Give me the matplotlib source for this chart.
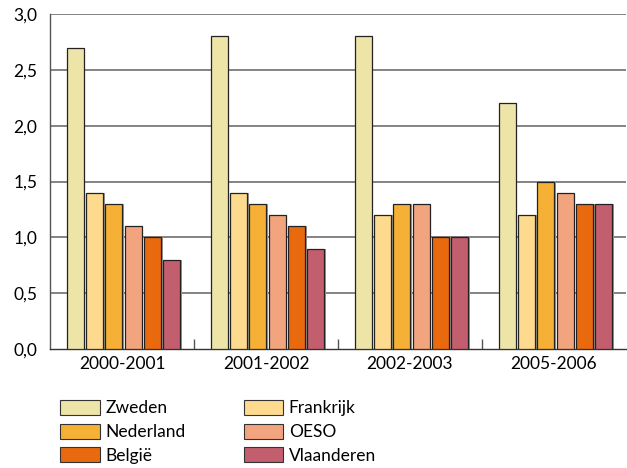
import numpy as np
import matplotlib
matplotlib.use('Agg')
import matplotlib.pyplot as plt
from matplotlib.patches import Patch

plt.rcParams['font.family'] = ['Lato', 'DejaVu Sans']

periods = ['2000-2001', '2001-2002', '2002-2003', '2005-2006']
series = ['Zweden', 'Frankrijk', 'Nederland', 'OESO', 'België', 'Vlaanderen']
values = {
    'Zweden':     [2.7, 2.8, 2.8, 2.2],
    'Frankrijk':  [1.4, 1.4, 1.2, 1.2],
    'Nederland':  [1.3, 1.3, 1.3, 1.5],
    'OESO':       [1.1, 1.2, 1.3, 1.4],
    'België':     [1.0, 1.1, 1.0, 1.3],
    'Vlaanderen': [0.8, 0.9, 1.0, 1.3],
}
colors = {
    'Zweden': '#EDE4A8',
    'Frankrijk': '#FDDA8E',
    'Nederland': '#F6B035',
    'OESO': '#F2A47E',
    'België': '#E96A0E',
    'Vlaanderen': '#C35E6E',
}

fig = plt.figure(figsize=(6.27, 4.68), dpi=100)
ax = fig.add_axes([50 / 627, 1 - 349 / 468, 576 / 627, 335 / 468])

x = np.arange(len(periods))
step = 0.134
width = 0.118
for i, name in enumerate(series):
    off = (i - 2.5) * step + 0.01
    # faint shadow behind each bar
    ax.bar(x + off + 0.012, values[name], width, color='#9a9a9a', zorder=2,
           linewidth=0)
    ax.bar(x + off, values[name], width, color=colors[name],
           edgecolor='#222222', linewidth=0.9, zorder=3)

ax.set_xlim(-0.5, len(periods) - 0.5)
ax.set_ylim(0, 3.0)
ax.set_yticks(np.arange(0, 3.01, 0.5))
ax.set_yticklabels([('%.1f' % v).replace('.', ',') for v in np.arange(0, 3.01, 0.5)])
for v in np.arange(0.5, 3.01, 0.5):
    ax.axhline(v, color='#6e6e6e', linewidth=1.2, zorder=1)

ax.set_xticks(x)
ax.set_xticklabels(periods)
ax.set_xticks(x[:-1] + 0.5, minor=True)
ax.tick_params(axis='x', which='major', length=0, labelsize=12.5, pad=5)
ax.tick_params(axis='x', which='minor', direction='in', length=7,
               color='#555555', width=1)
ax.tick_params(axis='y', length=0, labelsize=12.5, pad=9)

for s in ['top', 'right']:
    ax.spines[s].set_visible(False)
ax.spines['left'].set_color('#555555')
ax.spines['bottom'].set_color('#333333')
ax.spines['left'].set_linewidth(1.0)
ax.spines['bottom'].set_linewidth(1.0)

order = ['Zweden', 'Nederland', 'België', 'Frankrijk', 'OESO', 'Vlaanderen']
handles = [Patch(facecolor=colors[n], edgecolor='#333333', linewidth=0.8)
           for n in order]
fig.legend(handles, order, ncol=2, loc='upper left',
           bbox_to_anchor=(60 / 627, 1 - 400 / 468), frameon=False,
           fontsize=12.5, handlelength=2.3, handleheight=0.95,
           handletextpad=0.3, columnspacing=3.35, labelspacing=0.42,
           borderpad=0, borderaxespad=0)

fig.savefig('out.png', dpi=100)
